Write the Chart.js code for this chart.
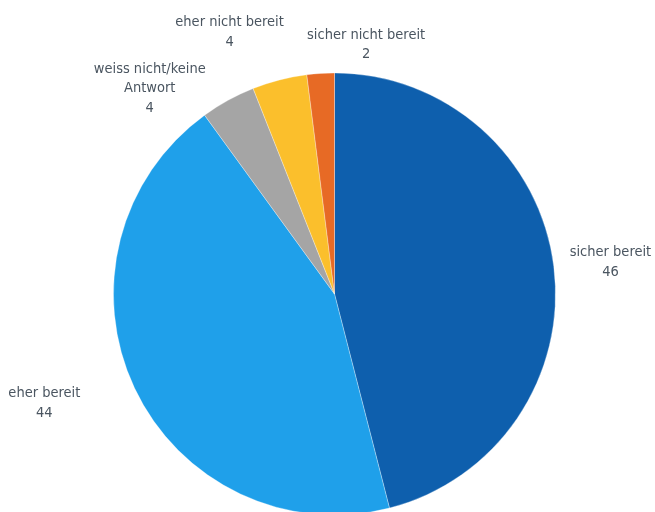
<!DOCTYPE html>
<html>
<head>
<meta charset="utf-8">
<script src="https://cdn.jsdelivr.net/npm/chart.js@4.4.0/dist/chart.umd.min.js"></script>
<style>
    html, body { margin: 0; padding: 0; background: #fff; overflow: hidden; }
    #wrap { position: relative; width: 655px; height: 530px; }
</style>
</head>
<body>
<div id="wrap"><canvas id="chart" width="655" height="530"></canvas></div>
<script>
const categories = ['sicher bereit', 'eher bereit', 'weiss nicht/keine Antwort', 'eher nicht bereit', 'sicher nicht bereit'];
const values = [46, 44, 4, 4, 2];
const sliceColors = ['#0e5fad', '#1fa0ea', '#a5a5a5', '#fbbf2c', '#e76a25'];

// label text lines and how far each label block sits from its default spot
const labelLines = [['sicher bereit'], ['eher bereit'], ['weiss nicht/keine', 'Antwort'], ['eher nicht bereit'], ['sicher nicht bereit']];
const labelShift = [[17, 1], [-54, -2], [-59, 23], [-40, -9], [48, 11]];

const FONT = '14.5px "Liberation Sans Narrow", "DejaVu Sans Condensed", sans-serif';
const LINE_H = 19.5;

const outsideLabels = {
    id: 'outsideLabels',
    afterDatasetsDraw(chart) {
        const ctx = chart.ctx;
        const meta = chart.getDatasetMeta(0);
        ctx.save();
        ctx.font = FONT;
        ctx.fillStyle = '#4a5560';
        ctx.textAlign = 'center';
        ctx.textBaseline = 'middle';
        meta.data.forEach((arc, i) => {
            const p = arc.getProps(['x', 'y', 'startAngle', 'endAngle', 'outerRadius'], true);
            const mid = (p.startAngle + p.endAngle) / 2;
            const r = p.outerRadius + 40;
            const cx = p.x + Math.cos(mid) * r + labelShift[i][0];
            const cy = p.y + Math.sin(mid) * r + labelShift[i][1];
            const lines = labelLines[i].concat([String(values[i])]);
            const top = cy - (lines.length - 1) * LINE_H / 2;
            lines.forEach((t, k) => ctx.fillText(t, cx, top + k * LINE_H));
        });
        ctx.restore();
    }
};

new Chart(document.getElementById('chart'), {
    type: 'pie',
    data: {
        labels: categories,
        datasets: [{
            data: values,
            backgroundColor: sliceColors,
            borderColor: 'rgba(255, 255, 255, 0.3)',
            borderWidth: 1
        }]
    },
    options: {
        responsive: false,
        animation: false,
        layout: { padding: { left: 113, right: 99, top: 72.5, bottom: 14.5 } },
        plugins: {
            legend: { display: false },
            tooltip: { enabled: false }
        }
    },
    plugins: [outsideLabels]
});
</script>
</body>
</html>
